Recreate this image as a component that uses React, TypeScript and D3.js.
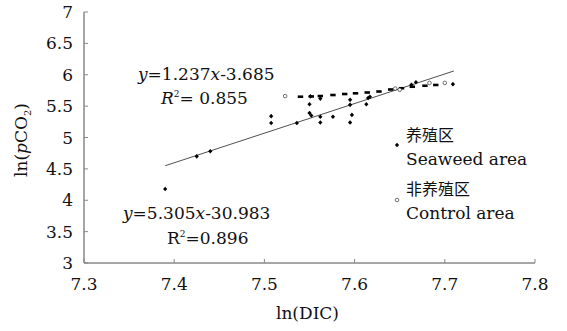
import React from "react";
import * as d3 from "d3";

const xTicks = [7.3, 7.4, 7.5, 7.6, 7.7, 7.8];
const yTicks = [3, 3.5, 4, 4.5, 5, 5.5, 6, 6.5, 7];

const seaweedX = [7.39, 7.425, 7.44, 7.5075, 7.5075, 7.536, 7.55, 7.55, 7.552, 7.562, 7.562, 7.576, 7.595, 7.595, 7.597, 7.595, 7.613, 7.617, 7.551, 7.562, 7.615, 7.663, 7.668, 7.709];
const seaweedY = [4.18, 4.70, 4.78, 5.34, 5.23, 5.23, 5.53, 5.39, 5.35, 5.33, 5.24, 5.33, 5.60, 5.52, 5.36, 5.24, 5.53, 5.65, 5.655, 5.62, 5.63, 5.84, 5.88, 5.85];

const controlX = [7.523, 7.645, 7.650, 7.683, 7.700];
const controlY = [5.66, 5.78, 5.76, 5.87, 5.87];

const dashX = [7.540, 7.552, 7.562, 7.576, 7.589, 7.601, 7.614, 7.627, 7.640, 7.652, 7.664, 7.678, 7.690];
const dashY = [5.650, 5.654, 5.661, 5.677, 5.693, 5.704, 5.717, 5.733, 5.765, 5.785, 5.809, 5.825, 5.837];

const fitX = [7.39, 7.71];
const fitY = [4.55, 6.06];

const W = 567, H = 331;
const M = { left: 84, right: 535, top: 12, bottom: 263 };
const serif = "'DejaVu Serif', 'Liberation Serif', serif";
const cjk = "'Noto Sans CJK SC', sans-serif";

export default function App() {
  const x = d3.scaleLinear().domain([7.3, 7.8]).range([M.left, M.right]);
  const y = d3.scaleLinear().domain([3, 7]).range([M.bottom, M.top]);
  const axisColor = "#888";
  const line = d3.line<number>().x((d, i) => x(fitX[i])).y((d, i) => y(fitY[i]));
  const fs = 17;
  return (
    <svg width={W} height={H} style={{ position: "absolute", left: 0, top: 0, background: "#fff" }} fontFamily={serif}>
      <rect width={W} height={H} fill="#fff" />
      <line x1={M.left} x2={M.left} y1={M.top} y2={M.bottom} stroke={axisColor} strokeWidth={1.5} />
      <line x1={M.left} x2={M.right} y1={M.bottom} y2={M.bottom} stroke={axisColor} strokeWidth={1.5} />
      {yTicks.map((t) => (
        <g key={"y" + t}>
          <line x1={M.left} x2={M.left + 4} y1={y(t)} y2={y(t)} stroke={axisColor} strokeWidth={1} />
          <text x={73} y={y(t) + 6} textAnchor="end" fontSize={fs} fill="#111">{t}</text>
        </g>
      ))}
      {xTicks.map((t) => (
        <g key={"x" + t}>
          <line x1={x(t)} x2={x(t)} y1={M.bottom} y2={M.bottom - 4} stroke={axisColor} strokeWidth={1} />
          <text x={x(t)} y={290} textAnchor="middle" fontSize={fs} fill="#111">{t.toFixed(1)}</text>
        </g>
      ))}
      <text x={(M.left + M.right) / 2 - 2} y={319} textAnchor="middle" fontSize={fs} fill="#111">ln(DIC)</text>
      <text transform="translate(27,140) rotate(-90)" textAnchor="middle" fontSize={fs} fill="#111">
        ln(<tspan fontStyle="italic">p</tspan>CO<tspan fontSize={10} dy={4}>2</tspan><tspan dy={-4}>)</tspan>
      </text>

      <path d={line(fitX) || ""} fill="none" stroke="#222" strokeWidth={0.8} />

      {dashX.map((v, i) => (
        <rect key={"d" + i} x={x(v) - 2.7} y={y(dashY[i]) - 1.3} width={5.4} height={2.6} fill="#000" />
      ))}
      {seaweedX.map((v, i) => {
        const cx = x(v), cy = y(seaweedY[i]);
        return <path key={"s" + i} d={`M${cx},${cy - 2.3}L${cx + 2.1},${cy}L${cx},${cy + 2.3}L${cx - 2.1},${cy}Z`} fill="#000" />;
      })}
      {controlX.map((v, i) => (
        <circle key={"c" + i} cx={x(v)} cy={y(controlY[i])} r={1.8} fill="#fff" stroke="#333" strokeWidth={0.7} />
      ))}

      <text x={138} y={80} fontSize={fs} fill="#111">
        <tspan fontStyle="italic">y</tspan>=1.237<tspan fontStyle="italic">x</tspan>-3.685
      </text>
      <text x={161} y={104} fontSize={fs} fill="#111">
        <tspan fontStyle="italic">R</tspan><tspan fontSize={9} dy={-7}>2</tspan><tspan dy={7}>= 0.855</tspan>
      </text>
      <text x={123} y={219} fontSize={fs} fill="#111">
        <tspan fontStyle="italic">y</tspan>=5.305<tspan fontStyle="italic">x</tspan>-30.983
      </text>
      <text x={167} y={244} fontSize={fs} fill="#111">
        R<tspan fontSize={9} dy={-7}>2</tspan><tspan dy={7}>=0.896</tspan>
      </text>

      <path d="M397,142.7L399.1,145L397,147.3L394.9,145Z" fill="#000" />
      <text x={406} y={141} fontFamily={cjk} fontSize={16} fill="#111">养殖区</text>
      <text x={406} y={165} fontSize={fs} fill="#111">Seaweed area</text>
      <circle cx={397} cy={200} r={1.8} fill="#fff" stroke="#333" strokeWidth={0.7} />
      <text x={406} y={195} fontFamily={cjk} fontSize={16} fill="#111">非养殖区</text>
      <text x={406} y={219} fontSize={fs} fill="#111">Control area</text>
    </svg>
  );
}
